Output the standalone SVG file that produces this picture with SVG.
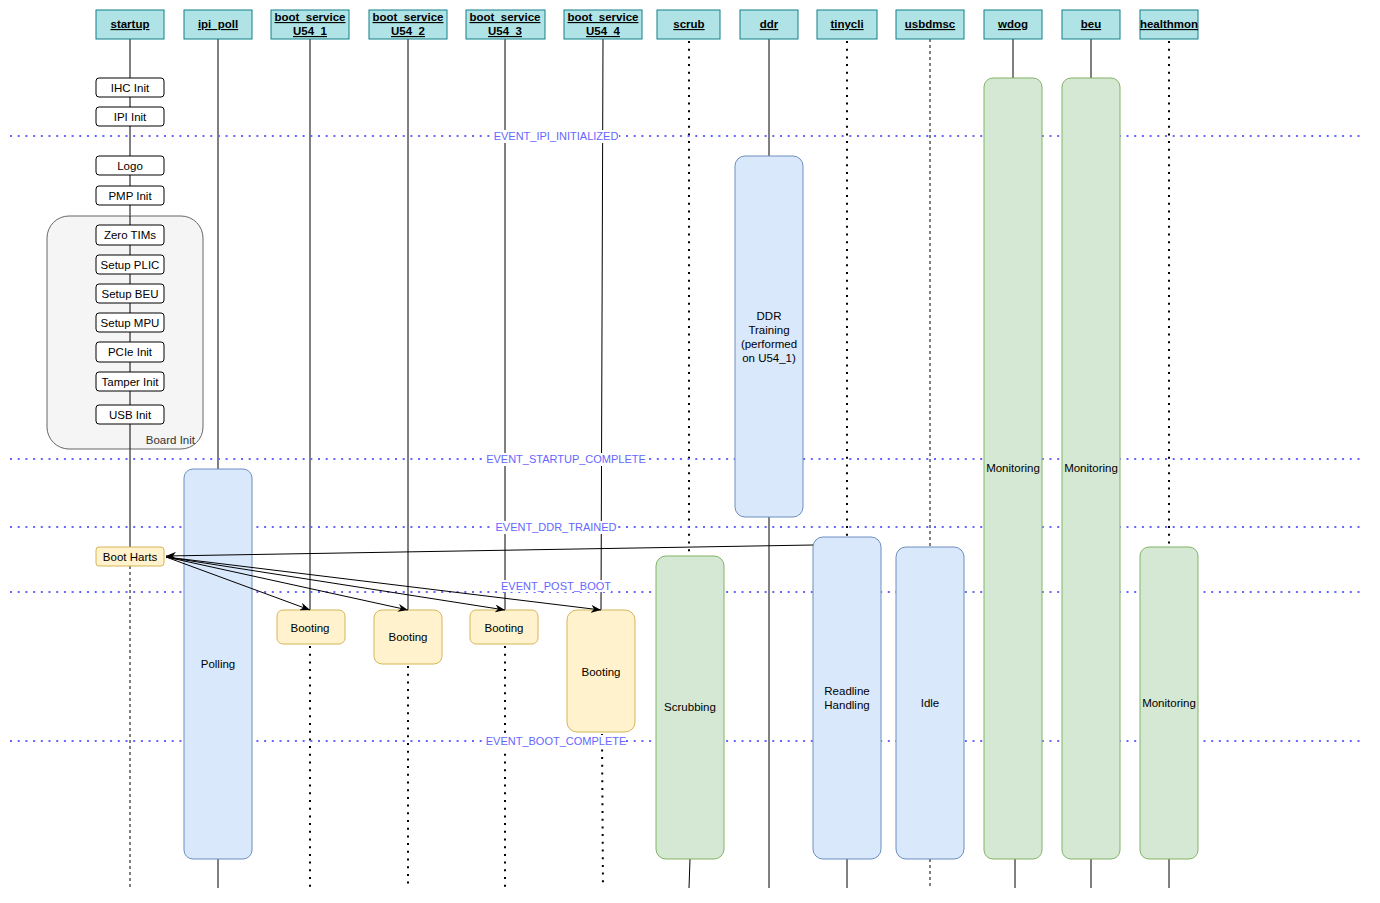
<svg xmlns="http://www.w3.org/2000/svg" width="1380" height="903" viewBox="0 0 1380 903">
<defs>
<style>
text{font-family:"Liberation Sans",Arial,sans-serif;font-size:11.5px;fill:#000;text-anchor:middle}
.hdr rect{fill:#b0e3e6;stroke:#0e8088;stroke-width:1}
.hdr text{font-weight:bold;text-decoration:underline}
.step{fill:#fff;stroke:#000;stroke-width:1}
.blue{fill:#dae8fc;stroke:#6c8ebf;stroke-width:1}
.green{fill:#d5e8d4;stroke:#82b366;stroke-width:1}
.yellow{fill:#fff2cc;stroke:#d6b656;stroke-width:1}
.solid{stroke:#000;stroke-width:1;fill:none}
.dash{stroke:#000;stroke-width:1;stroke-dasharray:3 3;fill:none}
.dot{stroke:#000;stroke-width:2;stroke-dasharray:2 5.7;fill:none}
.ev{stroke:#6666ff;stroke-width:2;stroke-dasharray:2 5.7;fill:none}
.evt{fill:#6666ff;font-size:11px}
.msg{stroke:#000;stroke-width:1;fill:none;marker-end:url(#arr)}
</style>
<marker id="arr" viewBox="0 0 10 8" refX="10" refY="4" markerWidth="10" markerHeight="8" markerUnits="userSpaceOnUse" orient="auto">
<path d="M0,0 L10,4 L0,8 L3,4 Z" fill="#000"/>
</marker>
</defs>
<rect width="1380" height="903" fill="#fff"/>

<!-- lifelines -->
<g id="lifelines">
<line class="solid" x1="130" y1="39" x2="130" y2="547"/>
<line class="dash" x1="130" y1="566" x2="130" y2="888"/>
<line class="solid" x1="218" y1="39" x2="218" y2="469"/>
<line class="solid" x1="218" y1="859" x2="218" y2="888"/>
<line class="solid" x1="310" y1="39" x2="310" y2="610"/>
<line class="dot" x1="310" y1="646" x2="310" y2="888"/>
<line class="solid" x1="408" y1="39" x2="408" y2="610"/>
<line class="dot" x1="408" y1="666" x2="408" y2="888"/>
<line class="solid" x1="505" y1="39" x2="505" y2="610"/>
<line class="dot" x1="505" y1="646" x2="505" y2="888"/>
<line class="solid" x1="603" y1="39" x2="601" y2="610"/>
<line class="dot" x1="602" y1="734" x2="603" y2="888"/>
<line class="dot" x1="689" y1="41" x2="689" y2="556"/>
<line class="solid" x1="690" y1="859" x2="689" y2="888"/>
<line class="solid" x1="769" y1="39" x2="769" y2="156"/>
<line class="solid" x1="769" y1="517" x2="769" y2="888"/>
<line class="dot" x1="847" y1="41" x2="847" y2="537"/>
<line class="solid" x1="847" y1="859" x2="847" y2="888"/>
<line class="dash" x1="930" y1="39" x2="930" y2="547"/>
<line class="dash" x1="930" y1="859" x2="930" y2="888"/>
<line class="solid" x1="1013" y1="39" x2="1013" y2="78"/>
<line class="solid" x1="1015" y1="859" x2="1015" y2="888"/>
<line class="solid" x1="1091" y1="39" x2="1091" y2="78"/>
<line class="solid" x1="1091" y1="859" x2="1091" y2="888"/>
<line class="dot" x1="1169" y1="41" x2="1169" y2="547"/>
<line class="solid" x1="1169" y1="859" x2="1169" y2="888"/>
</g>

<!-- event lines -->
<g id="events">
<line class="ev" x1="10" y1="136" x2="1365" y2="136"/>
<line class="ev" x1="10" y1="459" x2="1365" y2="459"/>
<line class="ev" x1="10" y1="527" x2="1365" y2="527"/>
<line class="ev" x1="10" y1="592" x2="1365" y2="592"/>
<line class="ev" x1="10" y1="741" x2="1365" y2="741"/>
</g>

<!-- headers -->
<g id="startup" class="hdr"><rect x="96" y="10" width="68" height="29"/><text x="130" y="28">startup</text></g>
<g id="ipi_poll" class="hdr"><rect x="184" y="10" width="68" height="29"/><text x="218" y="28">ipi_poll</text></g>
<g id="boot_service_u54_1" class="hdr"><rect x="271" y="10" width="78" height="29"/><text x="310" y="21">boot_service</text><text x="310" y="35">U54_1</text></g>
<g id="boot_service_u54_2" class="hdr"><rect x="369" y="10" width="78" height="29"/><text x="408" y="21">boot_service</text><text x="408" y="35">U54_2</text></g>
<g id="boot_service_u54_3" class="hdr"><rect x="466" y="10" width="79" height="29"/><text x="505" y="21">boot_service</text><text x="505" y="35">U54_3</text></g>
<g id="boot_service_u54_4" class="hdr"><rect x="564" y="10" width="78" height="29"/><text x="603" y="21">boot_service</text><text x="603" y="35">U54_4</text></g>
<g id="scrub" class="hdr"><rect x="657" y="10" width="63" height="29"/><text x="689" y="28">scrub</text></g>
<g id="ddr" class="hdr"><rect x="740" y="10" width="58" height="29"/><text x="769" y="28">ddr</text></g>
<g id="tinycli" class="hdr"><rect x="817" y="10" width="60" height="29"/><text x="847" y="28">tinycli</text></g>
<g id="usbdmsc" class="hdr"><rect x="896" y="10" width="68" height="29"/><text x="930" y="28">usbdmsc</text></g>
<g id="wdog" class="hdr"><rect x="984" y="10" width="58" height="29"/><text x="1013" y="28">wdog</text></g>
<g id="beu" class="hdr"><rect x="1062" y="10" width="58" height="29"/><text x="1091" y="28">beu</text></g>
<g id="healthmon" class="hdr"><rect x="1140" y="10" width="58" height="29"/><text x="1169" y="28">healthmon</text></g>

<!-- board init group -->
<g id="board_init">
<rect x="47" y="216" width="156" height="233" rx="22" fill="#f5f5f5" stroke="#666" stroke-width="1"/>
<line class="solid" x1="130" y1="216" x2="130" y2="449"/>
<text x="195" y="444" style="text-anchor:end;fill:#333">Board Init</text>
</g>

<!-- startup steps -->
<g id="ihc_init"><rect class="step" x="96" y="78" width="68" height="19" rx="3"/><text x="130" y="92">IHC Init</text></g>
<g id="ipi_init"><rect class="step" x="96" y="107" width="68" height="19" rx="3"/><text x="130" y="121">IPI Init</text></g>
<g id="logo"><rect class="step" x="96" y="156" width="68" height="19" rx="3"/><text x="130" y="170">Logo</text></g>
<g id="pmp_init"><rect class="step" x="96" y="186" width="68" height="19" rx="3"/><text x="130" y="200">PMP Init</text></g>
<g id="zero_tims"><rect class="step" x="96" y="225" width="68" height="20" rx="3"/><text x="130" y="239">Zero TIMs</text></g>
<g id="setup_plic"><rect class="step" x="96" y="255" width="68" height="19" rx="3"/><text x="130" y="269">Setup PLIC</text></g>
<g id="setup_beu"><rect class="step" x="96" y="284" width="68" height="19" rx="3"/><text x="130" y="298">Setup BEU</text></g>
<g id="setup_mpu"><rect class="step" x="96" y="313" width="68" height="19" rx="3"/><text x="130" y="327">Setup MPU</text></g>
<g id="pcie_init"><rect class="step" x="96" y="342" width="68" height="20" rx="3"/><text x="130" y="356">PCIe Init</text></g>
<g id="tamper_init"><rect class="step" x="96" y="372" width="68" height="19" rx="3"/><text x="130" y="386">Tamper Init</text></g>
<g id="usb_init"><rect class="step" x="96" y="405" width="68" height="19" rx="3"/><text x="130" y="419">USB Init</text></g>
<g id="boot_harts"><rect class="yellow" x="96" y="547" width="68" height="19" rx="3"/><text x="130" y="561">Boot Harts</text></g>

<!-- activations -->
<g id="polling"><rect class="blue" x="184" y="469" width="68" height="390" rx="9"/><text x="218" y="668">Polling</text></g>
<g id="booting_1"><rect class="yellow" x="277" y="610" width="68" height="34" rx="6"/><text x="310" y="632">Booting</text></g>
<g id="booting_2"><rect class="yellow" x="374" y="610" width="68" height="54" rx="8"/><text x="408" y="641">Booting</text></g>
<g id="booting_3"><rect class="yellow" x="470" y="610" width="68" height="34" rx="6"/><text x="504" y="632">Booting</text></g>
<g id="booting_4"><rect class="yellow" x="567" y="610" width="68" height="122" rx="10"/><text x="601" y="676">Booting</text></g>
<g id="scrubbing"><rect class="green" x="656" y="556" width="68" height="303" rx="10"/><text x="690" y="711">Scrubbing</text></g>
<g id="ddr_training"><rect class="blue" x="735" y="156" width="68" height="361" rx="10"/>
<text x="769" y="320">DDR</text><text x="769" y="334">Training</text><text x="769" y="348">(performed</text><text x="769" y="362">on U54_1)</text></g>
<g id="readline"><rect class="blue" x="813" y="537" width="68" height="322" rx="10"/><text x="847" y="695">Readline</text><text x="847" y="709">Handling</text></g>
<g id="idle"><rect class="blue" x="896" y="547" width="68" height="312" rx="10"/><text x="930" y="707">Idle</text></g>
<g id="wdog_monitoring"><rect class="green" x="984" y="78" width="58" height="781" rx="9"/><text x="1013" y="472">Monitoring</text></g>
<g id="beu_monitoring"><rect class="green" x="1062" y="78" width="58" height="781" rx="9"/><text x="1091" y="472">Monitoring</text></g>
<g id="healthmon_monitoring"><rect class="green" x="1140" y="547" width="58" height="312" rx="9"/><text x="1169" y="707">Monitoring</text></g>

<!-- connectors -->
<g id="connectors">
<path class="msg" d="M813,545 L166,556"/>
<path class="msg" d="M166,557 L310,610"/>
<path class="msg" d="M166,557 L408,610"/>
<path class="msg" d="M166,557 L505,610"/>
<path class="msg" d="M166,557 L601,610"/>
</g>

<!-- event labels -->
<g id="event_labels">
<rect x="493" y="130" width="126" height="13" fill="#fff"/><text class="evt" x="556" y="140">EVENT_IPI_INITIALIZED</text>
<rect x="487" y="453" width="159" height="13" fill="#fff"/><text class="evt" x="566" y="463">EVENT_STARTUP_COMPLETE</text>
<rect x="495" y="521" width="122" height="13" fill="#fff"/><text class="evt" x="556" y="531">EVENT_DDR_TRAINED</text>
<rect x="501" y="580" width="110" height="12" fill="#fff"/><text class="evt" x="556" y="590">EVENT_POST_BOOT</text>
<rect x="486" y="735" width="140" height="13" fill="#fff"/><text class="evt" x="556" y="745">EVENT_BOOT_COMPLETE</text>
</g>
</svg>
